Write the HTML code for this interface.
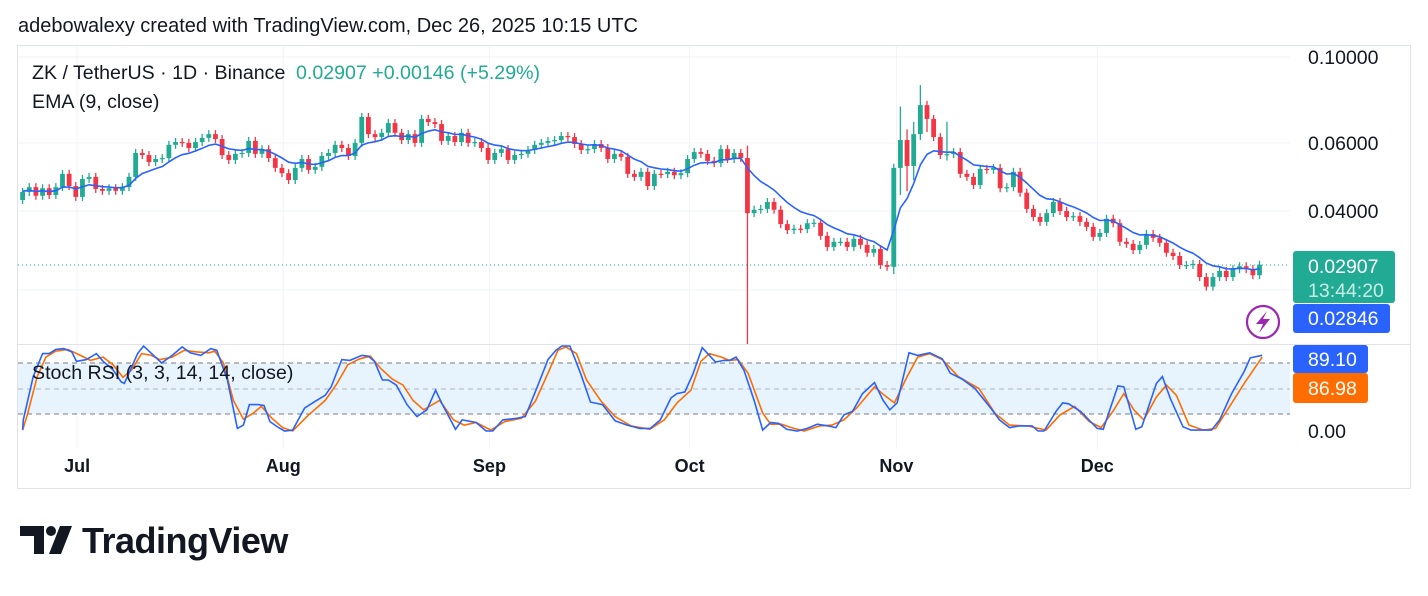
<!DOCTYPE html>
<html><head><meta charset="utf-8">
<style>
body{margin:0;background:#fff;width:1428px;height:591px;overflow:hidden;font-family:"Liberation Sans",sans-serif}
svg text{font-family:"Liberation Sans",sans-serif}
</style></head>
<body>
<svg id="chart" width="1428" height="591" viewBox="0 0 1428 591" xmlns="http://www.w3.org/2000/svg">
  <rect x="0" y="0" width="1428" height="591" fill="#ffffff"/>
  <text x="18" y="32" font-size="20" fill="#131722">adebowalexy created with TradingView.com, Dec 26, 2025 10:15 UTC</text>
  <rect x="17.5" y="45.5" width="1393" height="443" fill="none" stroke="#e0e3eb"/>
  <g id="grid"></g>
  <rect x="18" y="363" width="1272" height="51" fill="#e3f2fd" opacity="0.85"/>
  <line x1="18" x2="1290" y1="363" y2="363" stroke="#787b86" stroke-dasharray="5,4"/>
  <line x1="18" x2="1290" y1="389" y2="389" stroke="#b2b5be" stroke-dasharray="5,4"/>
  <line x1="18" x2="1290" y1="414" y2="414" stroke="#787b86" stroke-dasharray="5,4"/>
  <line x1="18" x2="1410" y1="344.5" y2="344.5" stroke="#e0e3eb"/>
  <line x1="18" x2="1290" y1="265" y2="265" stroke="#22ab94" stroke-dasharray="1,3"/>
  <g id="candles"></g>
  <path id="ema" fill="none" stroke="#2962ff" stroke-width="1.6"/>
  <path id="stochD" fill="none" stroke="#ff6d00" stroke-width="1.6"/>
  <path id="stochK" fill="none" stroke="#2962ff" stroke-width="1.6"/>
  <g id="axes"></g>

  <text x="32" y="79" font-size="19.6" fill="#131722">ZK / TetherUS · 1D · Binance</text>
  <text x="296" y="79" font-size="19.6" fill="#22ab94">0.02907  +0.00146 (+5.29%)</text>
  <text x="32" y="108" font-size="19.6" fill="#131722">EMA (9, close)</text>
  <text x="32" y="379" font-size="19.6" fill="#131722">Stoch RSI (3, 3, 14, 14, close)</text>

  <rect x="1293" y="251" width="102" height="52" rx="3" fill="#22ab94"/>
  <text x="1308" y="273" font-size="19.5" fill="#fff">0.02907</text>
  <text x="1308" y="297" font-size="19.5" fill="#c8ece6">13:44:20</text>
  <rect x="1293" y="304" width="97" height="29" rx="3" fill="#2962ff"/>
  <text x="1308" y="325" font-size="19.5" fill="#fff">0.02846</text>
  <rect x="1293" y="345" width="75" height="28" rx="3" fill="#2962ff"/>
  <text x="1308" y="366" font-size="19.5" fill="#fff">89.10</text>
  <rect x="1293" y="373" width="75" height="30" rx="3" fill="#ff6d00"/>
  <text x="1308" y="395" font-size="19.5" fill="#fff">86.98</text>
  <g>
    <circle cx="1263" cy="322" r="16" fill="#fff" stroke="#9c27b0" stroke-width="2.2"/>
    <path d="M1267 311 L1256 324 L1263 324 L1259 333 L1270 319 L1263 319 Z" fill="#9c27b0"/>
  </g>

  <g>
    <path d="M20 526 H44 V554 H34 V536 H20 Z" fill="#131722"/>
    <circle cx="51" cy="531" r="5" fill="#131722"/>
    <path d="M60 526 H72 L61 554 H49 Z" fill="#131722"/>
    <text x="82" y="553" font-size="36" font-weight="bold" fill="#131722" letter-spacing="-0.5">TradingView</text>
  </g>
</svg>
<script>
// ---- data ----
const firstOpen = 0.0427;
const closes = [
0.0448,0.0461,0.0438,0.0458,0.0440,0.0461,0.0499,0.0464,0.0435,0.0484,0.0490,0.0456,0.0451,0.0458,0.0451,0.0461,0.0490,0.0565,0.0558,0.0535,
0.0545,0.0548,0.0593,0.0603,0.0600,0.0582,0.0603,0.0618,0.0632,0.0614,0.0558,0.0542,0.0562,0.0565,0.0607,0.0562,0.0578,0.0548,0.0517,0.0501,
0.0481,0.0517,0.0545,0.0511,0.0520,0.0555,0.0565,0.0593,0.0582,0.0555,0.0600,0.0700,0.0632,0.0621,0.0637,0.0675,0.0637,0.0610,0.0632,0.0600,
0.0692,0.0679,
0.0671,0.0607,0.0625,0.0603,0.0637,0.0600,0.0603,0.0582,0.0542,0.0565,0.0578,0.0542,0.0558,0.0562,0.0575,0.0593,0.0600,0.0607,0.0610,0.0625,
0.0621,0.0596,0.0575,0.0578,0.0596,0.0582,0.0545,0.0562,0.0552,0.0499,0.0490,0.0505,0.0464,0.0499,0.0498,0.0505,0.0495,0.0501,0.0545,0.0568,
0.0562,0.0539,0.0532,0.0578,0.0545,0.0565,0.0548,0.0395,0.0403,0.0405,0.0422,0.0403,0.0370,0.0357,0.0360,0.0359,0.0372,0.0373,0.0345,0.0323,
0.0333,0.0333,0.0323,0.0339,0.0327,0.0312,0.0319,0.0290,0.0287,0.0517,0.0610,0.0523,0.0632,0.0751,0.0692,0.0621,0.0558,0.0561,0.0568,0.0499,
0.0490,0.0467,0.0514,0.0511,0.0517,0.0458,0.0461,0.0505,0.0446,0.0405,0.0386,0.0375,0.0395,0.0422,0.0400,0.0386,0.0388,0.0375,0.0364,0.0343,
0.0351,0.0382,0.0372,0.0333,0.0329,0.0317,0.0327,0.0349,0.0341,0.0331,0.0312,0.0306,0.0290,0.0290,0.0292,0.0270,0.0255,0.0270,0.0280,0.0270,
0.0283,0.0288,0.0283,0.0273,0.02907
];
const spikeIdx  = [109,   131,   132,   133,   134,   135,   136,   139,   159];
const spikeHigh = [0.0590,0.0530,0.0745,0.0650,0.0680,0.0846,0.0770,0.0680,0.0335];
const spikeLow  = [0.0170,0.0275,0.0440,0.0450,0.0480,0.0610,0.0640,0.0540,0.0400];
const kIdx = [0,0.1,1.6,3,4,5,6.2,7.4,8.1,9.6,11.1,12.1,13.6,14.8,15.3,16,17.3,18.2,19.4,20.9,22.5,24,25.2,26.8,28.3,29.2,30.8,32.3,33.2,34.1,35.4,36.3,37.2,38.5,39.4,40.6,42.4,44,45.5,46.4,47.3,48,49.2,51,52,52.9,54.1,55,56.2,57.8,59.3,60.8,62.1,63,65.1,66.1,68.2,69.7,70.7,72.2,74.3,75.6,77.4,79,80.2,81.1,82.3,83.9,85.4,87.2,89.1,90.9,92.8,94.4,95.9,97.5,98.4,99.6,100.8,102.2,104.2,105.4,106.3,107.3,108.5,110,111.3,112.5,113.7,114.9,116.5,118,119.5,121.1,122.3,123.5,124.8,126.3,128.1,129.4,130.4,131.5,133.3,134.6,136.4,138.3,139.5,141.3,143.2,145.6,146.9,148.4,149.9,151.8,152.7,153.6,155.4,156.4,157.3,159.1,161.6,162.5,164.7,165.6,167.4,168.3,170.5,171.4,172.6,174.5,175.7,178.8,180,181.8,183.7,184.6,186.4];
const kVal = [1,13,64,91,91,96,97,93,82,84,91,82,72,58,56,68,91,100,91,80,89,99,92,89,97,95,60,3,7,31,31,30,11,4,0,1,27,35,42,52,70,84,83,89,88,82,60,60,54,31,17,25,48,33,2,13,10,0,0,13,15,17,52,84,95,100,100,68,34,31,12,7,3,3,13,39,44,46,67,98,81,83,83,87,71,36,1,10,9,2,0,3,8,6,4,19,23,44,57,36,25,33,92,89,92,85,68,61,50,27,13,4,6,6,0,0,23,33,32,23,3,2,53,52,2,5,56,64,38,5,1,1,13,44,70,86,89.1];
const dIdx = [0,0.7,2.2,3.5,5,6.8,8.7,10.2,12.1,13.6,15.1,16.4,17.9,19.4,20.6,22.5,24.3,26.2,28,28.9,30.2,31.7,33.2,34.7,35.9,37.5,39.1,40.6,43,45.5,47.3,48.9,50.7,52.3,53.8,55.6,57.2,58.7,60.3,62.7,64.8,66.4,68.2,70.4,72.5,75,77.1,79,80.5,81.7,83.3,84.8,87,89.1,91.5,94.3,96.5,98.4,100.5,102,103.3,105.1,106.3,107.6,109.1,111.3,112.5,114.1,115.6,117.5,119.9,121.7,123.5,125.4,128.1,129.6,131.1,133,134.6,136.4,138.3,140.7,143.8,146.2,148.4,151.1,153.9,156,158.2,160.4,162.2,164.1,165.6,167.1,168.6,170.5,172,173.5,175.4,177.6,179.4,181.5,183.7,186.4];
const dVal = [1,19,64,87,94,96,89,83,87,78,63,72,91,89,84,87,95,93,92,94,80,36,14,21,29,15,4,0,19,36,56,78,85,88,74,61,54,36,25,36,13,7,10,1,11,15,35,68,95,99,91,60,35,17,6,2,13,33,48,82,91,87,83,84,68,21,8,8,4,0,6,7,13,27,52,42,33,64,87,91,84,64,50,21,7,6,1,19,29,11,4,25,44,25,13,40,54,42,7,1,3,29,56,86.98];
const monthLabels = ["Jul","Aug","Sep","Oct","Nov","Dec"];
const monthIdx = [8.2,39.2,70.2,100.3,131.4,161.6];
const priceTicks = [0.1,0.06,0.04];
const priceTickLabels = ["0.10000","0.06000","0.04000"];
const gridPrices = [0.1,0.06,0.04,0.025];

// ---- scales ----
const NS = "http://www.w3.org/2000/svg";
const X0 = 22.6, STEP = 6.65;
function xOf(i){ return X0 + STEP*i; }
function yP(p){ return 57 + (Math.log10(0.1) - Math.log10(p))*387; }
function yS(v){ return 431 - v*0.85; }
function mk(tag, attrs, parent){ const e=document.createElementNS(NS,tag); for(const k in attrs) e.setAttribute(k,attrs[k]); parent.appendChild(e); return e; }

const grid = document.getElementById('grid');
gridPrices.forEach(p=>{
  const l = mk('line',{x1:18,x2:1290,y1:yP(p),y2:yP(p),stroke:'#f0f3fa'},grid);
  
  
});
monthIdx.forEach(m=>{
  const l = mk('line',{x1:xOf(m),x2:xOf(m),y1:46,y2:449,stroke:'#f0f3fa'},grid);
  
  
});

const cg = document.getElementById('candles');
closes.forEach((c,i)=>{
  const o = i===0 ? firstOpen : closes[i-1];
  const up = c >= o;
  const col = up ? '#22ab94' : '#f23645';
  const x = xOf(i);
  const yo = yP(o), yc = yP(c);
  let top = Math.min(yo,yc), bot = Math.max(yo,yc);
  let hiY = top - 4, loY = bot + 4;
  const s = spikeIdx.indexOf(i);
  if (s >= 0){ hiY = Math.min(hiY, yP(spikeHigh[s])); loY = Math.max(loY, yP(spikeLow[s])); }
  loY = Math.min(loY, 344);
  const w = mk('line',{x1:x,x2:x,y1:hiY,y2:loY,stroke:col,'stroke-width':1.3},cg);
  
  
  const b = mk('rect',{x:x-2.4,y:top,width:4.8,height:Math.max(1.2,bot-top),fill:col},cg);
  
  
});

let ema = 0.0450, pts=[];
const a = 2/10;
closes.forEach((c,i)=>{ ema = i===0 ? 0.0450 : a*c + (1-a)*ema; pts.push(xOf(i).toFixed(1)+','+yP(ema).toFixed(1)); });
document.getElementById('ema').setAttribute('d','M'+pts.join(' L'));

function linePath(idx, vals){ return 'M'+idx.map((d,j)=>xOf(Math.max(-0.7,d)).toFixed(1)+','+yS(vals[j]).toFixed(1)).join(' L'); }
document.getElementById('stochK').setAttribute('d', linePath(kIdx,kVal));
document.getElementById('stochD').setAttribute('d', linePath(dIdx,dVal));

const ax = document.getElementById('axes');
monthLabels.forEach((m,j)=>{
  const t = mk('text',{x:xOf(monthIdx[j]),y:472,'font-size':18,'font-weight':'bold','text-anchor':'middle',fill:'#131722'},ax);
  t.textContent = m;
  
  
});
priceTicks.forEach((p,j)=>{
  const t = mk('text',{x:1308,y:yP(p)+7,'font-size':19.5,fill:'#131722'},ax);
  t.textContent = priceTickLabels[j];
  
  
});
const z = mk('text',{x:1308,y:yS(0)+7,'font-size':19.5,fill:'#131722'},ax);
z.textContent = '0.00';


</script>
</body></html>
